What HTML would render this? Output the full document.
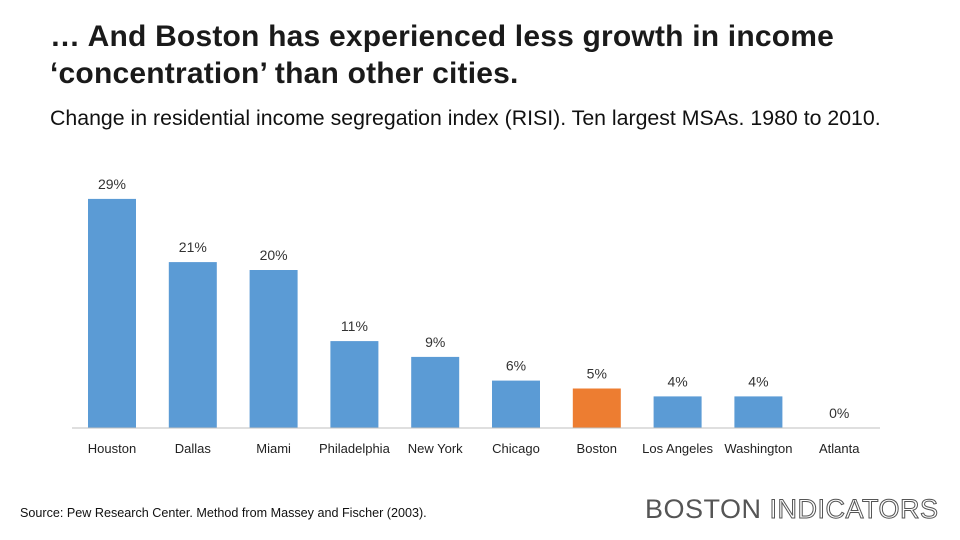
<!DOCTYPE html>
<html><head><meta charset="utf-8"><style>
body{margin:0;width:960px;height:540px;background:#fff;font-family:"Liberation Sans",sans-serif;overflow:hidden;position:relative}
#title{position:absolute;left:50px;top:18px;font-size:30px;font-weight:bold;color:#1a1a1a;line-height:37px;letter-spacing:0.2px}
#sub{position:absolute;left:50px;top:106px;font-size:21.3px;color:#111}
#src{position:absolute;left:20px;top:506px;font-size:12.6px;color:#111}
#logo{position:absolute;left:645px;top:494px;font-size:27px;color:#555;letter-spacing:0.5px}
#logo span{color:#fff;-webkit-text-stroke:1px #555}
svg{position:absolute;left:0;top:0}
</style></head><body>
<div id="title">… And Boston has experienced less growth in income<br>‘concentration’ than other cities.</div>
<div id="sub">Change in residential income segregation index (RISI). Ten largest MSAs. 1980 to 2010.</div>
<svg id="chart" width="960" height="540"></svg>
<div id="src">Source: Pew Research Center. Method from Massey and Fischer (2003).</div>
<div id="logo">BOSTON <span>INDICATORS</span></div>
<script>
const categories=["Houston","Dallas","Miami","Philadelphia","New York","Chicago","Boston","Los Angeles","Washington","Atlanta"];
const values=[29,21,20,11,9,6,5,4,4,0];
const labels=["29%","21%","20%","11%","9%","6%","5%","4%","4%","0%"];
const svg=document.getElementById('chart');
const NS="http://www.w3.org/2000/svg";
const base=428,scale=7.9,x0=112,step=80.8,bw=48;
const x=i=>x0+i*step;
const y=v=>base-v*scale;
function mk(t,a){const e=document.createElementNS(NS,t);for(const k in a)e.setAttribute(k,a[k]);svg.appendChild(e);return e;}
categories.forEach((c,i)=>{
  const r=mk('rect',{x:x(i)-bw/2,y:y(values[i]),width:bw,height:base-y(values[i]),fill:c==="Boston"?"#ed7d31":"#5b9bd5"});
  
  
  const t=mk('text',{x:x(i),y:y(values[i])-10,'text-anchor':'middle','font-size':14,fill:'#333'});
  t.textContent=labels[i];
  
  
  const l=mk('text',{x:x(i),y:453,'text-anchor':'middle','font-size':13,fill:'#222'});
  l.textContent=c;
  
  
});
const ax=mk('line',{x1:72,x2:880,y1:base,y2:base,stroke:'#bfbfbf','stroke-width':1});


</script>
</body></html>
